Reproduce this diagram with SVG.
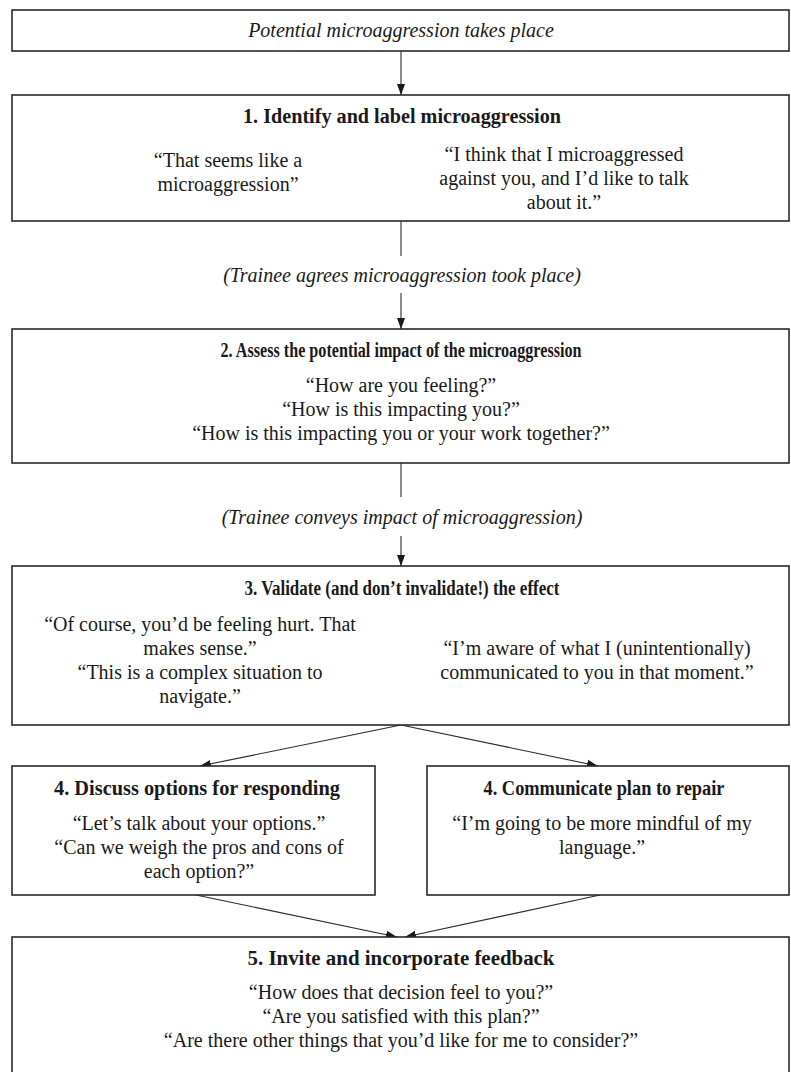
<svg xmlns="http://www.w3.org/2000/svg" width="791" height="1072" viewBox="0 0 791 1072">
<style>
.box{fill:#fff;stroke:#2a2a2a;stroke-width:1.6}
.t{font-family:"Liberation Serif","Times New Roman",serif;font-size:20px;fill:#1a1a1a;text-anchor:middle}
.b{font-weight:bold}
.i{font-style:italic}
.c{stroke:#2a2a2a;stroke-width:1.1;fill:none}
</style>
<defs>
<marker id="ah" markerWidth="12" markerHeight="10" refX="11" refY="5" orient="auto" markerUnits="userSpaceOnUse">
<path d="M0,1 L11,5 L0,9 Z" fill="#1a1a1a"/>
</marker>
</defs>
<rect width="791" height="1072" fill="#fff"/>
<g id="connectors">
<line class="c" x1="401" y1="51" x2="401" y2="95" marker-end="url(#ah)"/>
<line class="c" x1="401" y1="221" x2="401" y2="256"/>
<text class="t i" x="402" y="282">(Trainee agrees microaggression took place)</text>
<line class="c" x1="401" y1="293" x2="401" y2="329" marker-end="url(#ah)"/>
<line class="c" x1="401" y1="463" x2="401" y2="497"/>
<text class="t i" x="402" y="524">(Trainee conveys impact of microaggression)</text>
<line class="c" x1="401" y1="536" x2="401" y2="566" marker-end="url(#ah)"/>
<line class="c" x1="401" y1="725" x2="200" y2="766" marker-end="url(#ah)"/>
<line class="c" x1="401" y1="725" x2="598" y2="766" marker-end="url(#ah)"/>
<line class="c" x1="196" y1="895" x2="397" y2="937" marker-end="url(#ah)"/>
<line class="c" x1="600" y1="895" x2="405" y2="937" marker-end="url(#ah)"/>
</g>
<g id="start">
<rect class="box" x="12" y="10" width="777" height="41"/>
<text class="t i" x="401" y="37">Potential microaggression takes place</text>
</g>
<g id="step1">
<rect class="box" x="12" y="95" width="777" height="126"/>
<text class="t b" x="402" y="123" textLength="318" lengthAdjust="spacingAndGlyphs">1. Identify and label microaggression</text>
<text class="t" x="228" y="167">“That seems like a</text>
<text class="t" x="228" y="191">microaggression”</text>
<text class="t" x="564" y="161">“I think that I microaggressed</text>
<text class="t" x="564" y="185">against you, and I’d like to talk</text>
<text class="t" x="564" y="209">about it.”</text>
</g>
<g id="step2">
<rect class="box" x="12" y="329" width="777" height="134"/>
<text class="t b" x="401" y="357" textLength="361" lengthAdjust="spacingAndGlyphs">2. Assess the potential impact of the microaggression</text>
<text class="t" x="401" y="392">“How are you feeling?”</text>
<text class="t" x="401" y="416">“How is this impacting you?”</text>
<text class="t" x="401" y="440">“How is this impacting you or your work together?”</text>
</g>
<g id="step3">
<rect class="box" x="12" y="566" width="777" height="159"/>
<text class="t b" x="402" y="595" textLength="315" lengthAdjust="spacingAndGlyphs">3. Validate (and don’t invalidate!) the effect</text>
<text class="t" x="200" y="631">“Of course, you’d be feeling hurt. That</text>
<text class="t" x="200" y="655">makes sense.”</text>
<text class="t" x="200" y="679">“This is a complex situation to</text>
<text class="t" x="200" y="703">navigate.”</text>
<text class="t" x="597" y="655">“I’m aware of what I (unintentionally)</text>
<text class="t" x="597" y="679">communicated to you in that moment.”</text>
</g>
<g id="step4a">
<rect class="box" x="12" y="766" width="363" height="129"/>
<text class="t b" x="197" y="795" textLength="286" lengthAdjust="spacingAndGlyphs">4. Discuss options for responding</text>
<text class="t" x="199" y="830">“Let’s talk about your options.”</text>
<text class="t" x="199" y="854">“Can we weigh the pros and cons of</text>
<text class="t" x="199" y="878">each option?”</text>
</g>
<g id="step4b">
<rect class="box" x="427" y="766" width="362" height="129"/>
<text class="t b" x="604" y="795" textLength="241" lengthAdjust="spacingAndGlyphs">4. Communicate plan to repair</text>
<text class="t" x="602" y="830">“I’m going to be more mindful of my</text>
<text class="t" x="602" y="854">language.”</text>
</g>
<g id="step5">
<rect class="box" x="12" y="937" width="777" height="145"/>
<text class="t b" x="401" y="965" textLength="307" lengthAdjust="spacingAndGlyphs">5. Invite and incorporate feedback</text>
<text class="t" x="401" y="999">“How does that decision feel to you?”</text>
<text class="t" x="401" y="1023">“Are you satisfied with this plan?”</text>
<text class="t" x="401" y="1047">“Are there other things that you’d like for me to consider?”</text>
</g>
</svg>
